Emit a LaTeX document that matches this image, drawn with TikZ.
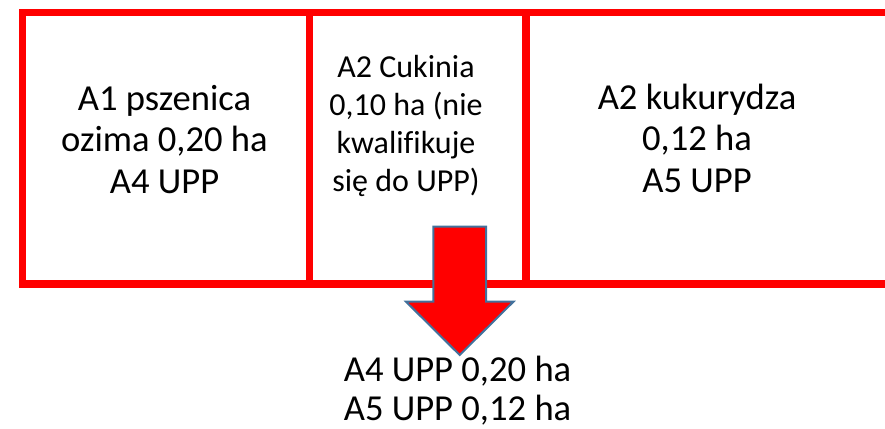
\documentclass[tikz,border=0pt]{standalone}
\usepackage{fontspec}
\setmainfont[Ligatures=NoCommon]{Carlito}
\definecolor{arrowblue}{HTML}{41719C}
\begin{document}
\begin{tikzpicture}[x=1pt,y=-1pt,
  cell/.style={draw=red, line width=7.5pt, inner sep=0pt, outer sep=0pt},
  big/.style={font=\fontsize{36.6}{41.5}\selectfont, align=center, inner sep=0pt, anchor=base},
  small/.style={font=\fontsize{32}{38}\selectfont, align=center, inner sep=0pt, anchor=base},
  result/.style={font=\fontsize{36.6}{38.3}\selectfont, align=center, inner sep=0pt, anchor=base},
  blockarrow/.style={fill=red, draw=arrowblue, line width=2pt, line join=miter}]
\useasboundingbox (0,0) rectangle (885,428);
% cells
\node[cell, minimum width=287, minimum height=271.7] (c1) at (166,148.15) {};
\node[cell, minimum width=216.5, minimum height=271.7] (c2) at (417.75,148.15) {};
\node[cell, minimum width=366, minimum height=271.7] (c3) at (709,148.15) {};
% texts (anchor=base is the baseline of the last line)
\node[big] (t1) at (164.5,193) {A1 pszenica\\ozima 0,20 ha\\A4 UPP};
\node[small] (t2) at (406,191) {A2 Cukinia\\0,10 ha (nie\\kwalifikuje\\się do UPP)};
\node[big] (t3) at (697,192) {A2 kukurydza\\0,12 ha\\A5 UPP};
\node[result] (t4) at (457.5,420) {A4 UPP 0,20 ha\\A5 UPP 0,12 ha};
% block arrow
\coordinate (a) at (459.7,226.7);
\draw[blockarrow] (a) ++(-26.4,0) -- ++(52.8,0) -- ++(0,75) -- ++(27.3,0)
  -- ++(-53.7,53.3) -- ++(-53.7,-53.3) -- ++(27.3,0) -- cycle;
\end{tikzpicture}
\end{document}
